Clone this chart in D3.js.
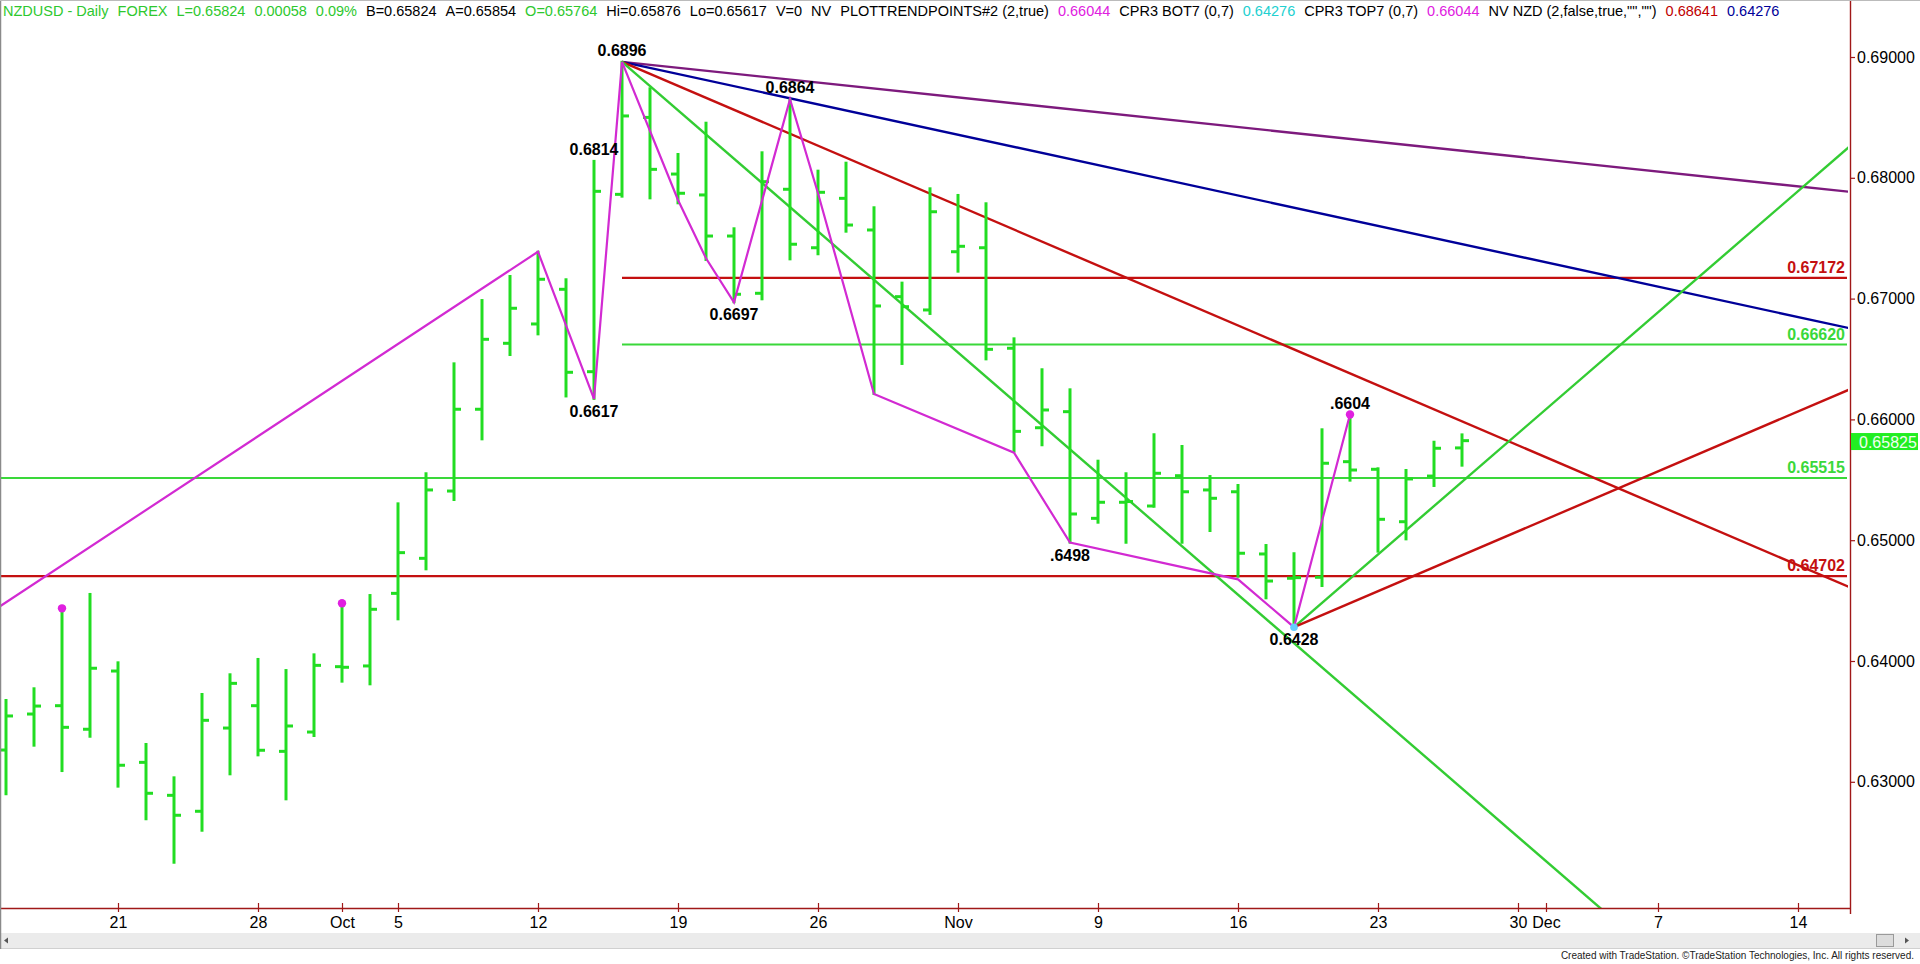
<!DOCTYPE html>
<html><head><meta charset="utf-8">
<script src="https://cdn.jsdelivr.net/npm/d3@7"></script>
<style>
body{margin:0;background:#fff;overflow:hidden}
svg{display:block}
text{font-family:"Liberation Sans",Arial,sans-serif}
</style>
</head><body>
<svg id="c" width="1920" height="964"></svg>
<script>
// ---------------- DATA ----------------
const sessions = ["2020-09-15","2020-09-16","2020-09-17","2020-09-18","2020-09-21","2020-09-22","2020-09-23","2020-09-24","2020-09-25",
"2020-09-28","2020-09-29","2020-09-30","2020-10-01","2020-10-02","2020-10-05","2020-10-06","2020-10-07","2020-10-08","2020-10-09",
"2020-10-12","2020-10-13","2020-10-14","2020-10-15","2020-10-16","2020-10-19","2020-10-20","2020-10-21","2020-10-22","2020-10-23",
"2020-10-26","2020-10-27","2020-10-28","2020-10-29","2020-10-30","2020-11-02","2020-11-03","2020-11-04","2020-11-05","2020-11-06",
"2020-11-09","2020-11-10","2020-11-11","2020-11-12","2020-11-13","2020-11-16","2020-11-17","2020-11-18","2020-11-19","2020-11-20",
"2020-11-23","2020-11-24","2020-11-25","2020-11-26"];

const openP = [0.63263,0.63561,0.6363,0.63435,0.63917,0.63161,0.62888,0.62756,0.63445,0.6363,
0.63252,0.63412,0.63953,0.63959,0.6456,0.6485,0.65407,0.66084,0.6663,0.6679,
0.67077,0.66395,0.67863,0.6850,0.68031,0.67858,0.67518,0.67044,0.67905,0.67421,
0.6783,0.67568,0.67016,0.66906,0.67388,0.67421,0.66589,0.65931,0.66064,0.65181,
0.65314,0.65283,0.65534,0.65416,0.65401,0.64886,0.64685,0.64693,0.6565,0.65587,
0.65153,0.65531,0.65764];
const highP = [0.63677,0.63774,0.64436,0.64555,0.63989,0.63313,0.63037,0.63727,0.6389,0.64017,
0.63925,0.64055,0.64478,0.64546,0.65305,0.65554,0.66464,0.66988,0.67187,0.67388,
0.6716,0.6814,0.6896,0.68741,0.68197,0.68456,0.67582,0.68211,0.6865,0.68059,
0.68125,0.67756,0.67132,0.67913,0.67858,0.67789,0.66671,0.66415,0.66249,0.65658,
0.65554,0.65877,0.6578,0.65531,0.65457,0.6496,0.64892,0.65918,0.6604,0.65595,
0.65581,0.65815,0.65876];
const lowP = [0.62897,0.63299,0.63089,0.63373,0.6296,0.6269,0.6233,0.62595,0.63062,0.63219,
0.62855,0.63379,0.63829,0.63807,0.64345,0.64759,0.65333,0.65835,0.66533,0.66704,
0.6619,0.6617,0.67844,0.6783,0.67789,0.6732,0.6697,0.66994,0.67325,0.67367,
0.67554,0.6621,0.66459,0.66873,0.67223,0.66497,0.65733,0.65786,0.6498,0.65145,
0.64979,0.65277,0.64979,0.65076,0.64698,0.64519,0.6428,0.64621,0.65493,0.64905,
0.65007,0.65449,0.65617];
const closeP = [0.63545,0.63627,0.63451,0.6394,0.63137,0.62905,0.62723,0.63509,0.63815,0.63261,
0.63462,0.63964,0.63948,0.64428,0.64897,0.65416,0.66084,0.66663,0.6692,0.6716,
0.6639,0.67888,0.68512,0.6807,0.67872,0.67518,0.67036,0.67968,0.6745,0.6788,
0.67609,0.66939,0.66933,0.67719,0.67433,0.6658,0.65901,0.66078,0.65217,0.65314,
0.6532,0.65554,0.65401,0.65347,0.64892,0.64662,0.6469,0.65637,0.65581,0.65173,
0.65507,0.65761,0.65824];

// x-axis ticks (session index incl. future sessions) and labels
const xTickIdx = [4,9,12,14,19,24,29,34,39,44,49,54,55,59,64];
const xTickLabels = ["21","28","Oct","5","12","19","26","Nov","9","16","23","30","Dec","7","14"];
const yTicks = [0.63,0.64,0.65,0.66,0.67,0.68,0.69];

// swing (zigzag) line points: [session index, price]
const zigzag = [[-0.3,0.6444],[19,0.67388],[21,0.6617],[22,0.6896],[24,0.67816],[25,0.67334],[26,0.6697],
[28,0.6865],[29,0.67872],[31,0.6621],[36,0.65724],[38,0.6498],[44,0.64676],[46,0.6428],[48,0.6604]];

// trend lines: [[idx, price],[idx, price]]
const purpleLine   = [[22,0.6896],[66,0.6788]];
const blueLine     = [[22,0.6896],[66,0.66747]];
const redDownLine  = [[22,0.6896],[66,0.64595]];
const greenDownLine= [[22,0.6896],[60,0.61341]];
const greenUpLine  = [[46,0.6428],[66,0.6829]];
const redUpLine    = [[46,0.6428],[66,0.66264]];

// horizontal levels
const levelValues = [0.67172,0.66620,0.65515,0.64702];
const levelStartIdx = [22,22,null,null];
const levelIsRed = [true,false,false,true];

// pivot labels: [idx, price, text]
const highLabels = [[22,0.6896,"0.6896"],[21,0.6814,"0.6814"],[28,0.6865,"0.6864"],[48,0.6604,".6604"]];
const lowLabels  = [[21,0.6617,"0.6617"],[26,0.6697,"0.6697"],[38,0.6498,".6498"],[46,0.6428,"0.6428"]];

// markers
const magentaDots = [[2,0.64436],[12,0.64478],[48,0.6604]];
const cyanDots = [[46,0.6428]];
const lastPrice = 0.65825;

const headerSegs = [["NZDUSD - Daily","g"],["FOREX","g"],["L=0.65824","g"],["0.00058","g"],["0.09%","g"],
["B=0.65824","k"],["A=0.65854","k"],["O=0.65764","g"],["Hi=0.65876","k"],["Lo=0.65617","k"],["V=0","k"],["NV","k"],
["PLOTTRENDPOINTS#2 (2,true)","k"],["0.66044","m"],["CPR3 BOT7 (0,7)","k"],["0.64276","c"],["CPR3 TOP7 (0,7)","k"],
["0.66044","m"],['NV NZD (2,false,true,"","")',"k"],["0.68641","r"],["0.64276","b"]];

// ---------------- DRAW ----------------
const svg = d3.select("#c");
const W = 1920, H = 964;
const axisX = 1850, plotBottom = 908, plotTop = 22;

const x = d3.scaleLinear().domain([0, 65.75]).range([6, 1847]);
const y = d3.scaleLinear().domain([0.63, 0.69]).range([781.8, 57]);

const C = {bar:"#22dd22", green:"#33cc33", greenLvl:"#3ad83a", red:"#c41010", blue:"#000099",
  purple:"#7d1a7d", magenta:"#d22ad2", axis:"#a01818"};

svg.append("rect").attr("width",W).attr("height",H).attr("fill","#fff");

svg.append("defs").append("clipPath").attr("id","plot")
  .append("rect").attr("x",1).attr("y",plotTop).attr("width",axisX-3).attr("height",plotBottom-plotTop);

const plot = svg.append("g").attr("clip-path","url(#plot)");

// horizontal levels
levelValues.forEach((v,i)=>{
  const x0 = levelStartIdx[i]===null ? 0 : x(levelStartIdx[i]);
  plot.append("line").attr("x1",x0).attr("x2",axisX-3).attr("y1",y(v)).attr("y2",y(v))
    .attr("stroke", levelIsRed[i]?C.red:C.greenLvl).attr("stroke-width",2.2);
});

// trend lines
const line = d3.line().x(d=>x(d[0])).y(d=>y(d[1]));
[[purpleLine,C.purple],[blueLine,C.blue],[redDownLine,C.red],[greenDownLine,C.green],[greenUpLine,C.green],[redUpLine,C.red]]
 .forEach(([pts,col])=>{
   plot.append("path").attr("d",line(pts)).attr("fill","none").attr("stroke",col).attr("stroke-width",2.4);
 });

// OHLC bars
const bars = plot.append("g").attr("stroke",C.bar).attr("stroke-width",3);
sessions.forEach((s,i)=>{
  const cx = x(i);
  bars.append("line").attr("x1",cx).attr("x2",cx).attr("y1",y(highP[i])-1).attr("y2",y(lowP[i])+1);
  bars.append("line").attr("x1",cx-7).attr("x2",cx).attr("y1",y(openP[i])).attr("y2",y(openP[i]));
  bars.append("line").attr("x1",cx).attr("x2",cx+7).attr("y1",y(closeP[i])).attr("y2",y(closeP[i]));
});

// zigzag
plot.append("path").attr("d",line(zigzag)).attr("fill","none").attr("stroke",C.magenta).attr("stroke-width",2.2);

// dots
magentaDots.forEach(d=>plot.append("circle").attr("cx",x(d[0])).attr("cy",y(d[1])).attr("r",4.2).attr("fill","#e020e0"));
cyanDots.forEach(d=>plot.append("circle").attr("cx",x(d[0])).attr("cy",y(d[1])).attr("r",3.8).attr("fill","#66ccff"));

// pivot labels
highLabels.forEach(d=>svg.append("text").attr("x",x(d[0])).attr("y",y(d[1])-6).attr("text-anchor","middle")
  .attr("font-size",16).attr("font-weight","bold").attr("fill","#000").text(d[2]));
lowLabels.forEach(d=>svg.append("text").attr("x",x(d[0])).attr("y",y(d[1])+18).attr("text-anchor","middle")
  .attr("font-size",16).attr("font-weight","bold").attr("fill","#000").text(d[2]));

// level labels at right
levelValues.forEach((v,i)=>{
  svg.append("text").attr("x",axisX-5).attr("y",y(v)-5).attr("text-anchor","end")
    .attr("font-size",16).attr("font-weight","bold").attr("fill",levelIsRed[i]?C.red:C.greenLvl)
    .text(d3.format(".5f")(v));
});

// right axis
svg.append("line").attr("x1",axisX+0.5).attr("x2",axisX+0.5).attr("y1",0).attr("y2",plotBottom+6)
  .attr("stroke",C.axis).attr("stroke-width",1.4);
const yAxis = svg.append("g").attr("transform",`translate(${axisX},0)`)
  .call(d3.axisRight(y).tickValues(yTicks).tickSize(5).tickPadding(2).tickFormat(d3.format(".5f")));
yAxis.select(".domain").remove();
yAxis.selectAll(".tick line").attr("stroke",C.axis).attr("stroke-width",1.2);
yAxis.selectAll(".tick text").attr("font-size",16).attr("fill","#000")
  .style("font-family",'"Liberation Sans",Arial,sans-serif');

// last price flag
svg.append("rect").attr("x",axisX+1).attr("y",y(lastPrice)-7.5).attr("width",W-axisX-3).attr("height",17).attr("fill","#22ee22");
svg.append("text").attr("x",axisX+9).attr("y",y(lastPrice)+7).attr("font-size",16).attr("fill","#f0fff0")
  .text(d3.format(".5f")(lastPrice));

// bottom axis
svg.append("line").attr("x1",0).attr("x2",axisX+1).attr("y1",plotBottom+0.5).attr("y2",plotBottom+0.5)
  .attr("stroke",C.axis).attr("stroke-width",1.6);
const xAxis = svg.append("g").attr("transform",`translate(0,${plotBottom})`)
  .call(d3.axisBottom(x).tickValues(xTickIdx).tickSize(4).tickPadding(5).tickFormat((d,i)=>xTickLabels[i]));
xAxis.select(".domain").remove();
xAxis.selectAll(".tick line").attr("y1",-5).attr("y2",4).attr("stroke",C.axis).attr("stroke-width",1.2);
xAxis.selectAll(".tick text").attr("font-size",16).attr("fill","#000")
  .style("font-family",'"Liberation Sans",Arial,sans-serif');

// scrollbar
svg.append("rect").attr("x",0).attr("y",933).attr("width",W).attr("height",15).attr("fill","#ebebeb");
svg.append("line").attr("x1",0).attr("x2",W).attr("y1",948.5).attr("y2",948.5).attr("stroke","#d0d0d0");
svg.append("path").attr("d","M4,940.5 L8,937.5 L8,943.5 Z").attr("fill","#555");
svg.append("rect").attr("x",1876.5).attr("y",934.5).attr("width",17).attr("height",12).attr("fill","#dcdcdc").attr("stroke","#9a9a9a");
svg.append("path").attr("d","M1905,937.5 L1909,940.5 L1905,943.5 Z").attr("fill","#555");

// left border
svg.append("line").attr("x1",0.5).attr("x2",0.5).attr("y1",0).attr("y2",949).attr("stroke","#8a8a8a").attr("stroke-width",1.5);
svg.append("line").attr("x1",0).attr("x2",W).attr("y1",0.5).attr("y2",0.5).attr("stroke","#bbbbbb");

// credit
svg.append("text").attr("x",1914).attr("y",959).attr("text-anchor","end").attr("font-size",10).attr("fill","#222")
  .text("Created with TradeStation. \u00A9TradeStation Technologies, Inc. All rights reserved.");

// header
const hc = {g:"#2ec82e", k:"#000", m:"#e020e0", c:"#22d0d0", r:"#c00000", b:"#000099"};
let hx = 3;
headerSegs.forEach(([t,c])=>{
  const el = svg.append("text").attr("x",hx).attr("y",16).attr("font-size",14.5).attr("fill",hc[c]).text(t);
  hx += el.node().getComputedTextLength() + 9;
});
</script>
</body></html>
